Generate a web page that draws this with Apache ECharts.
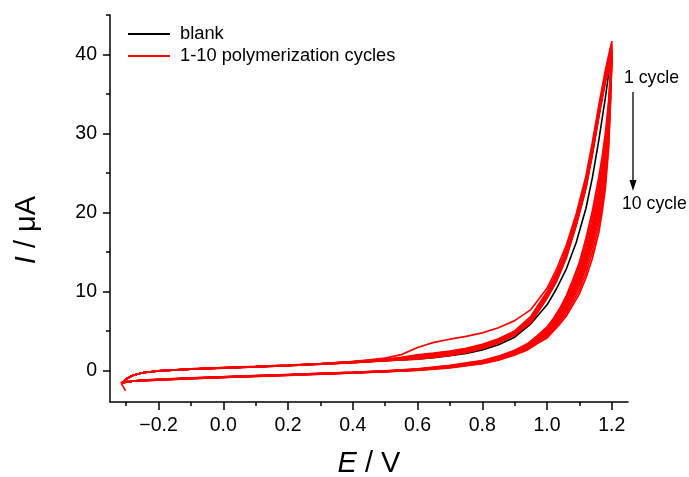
<!DOCTYPE html>
<html><head><meta charset="utf-8">
<script src="https://cdn.jsdelivr.net/npm/echarts@6/dist/echarts.min.js"></script>
<style>html,body{margin:0;padding:0;background:#fff}#c{width:689px;height:477px}</style>
</head><body><div id="c"></div>
<script>
// potential grids (V) for the anodic (forward) and cathodic (reverse) sweeps
const fwdX = [-0.315,-0.3,-0.28,-0.25,-0.2,-0.1,0,0.1,0.2,0.3,0.4,0.5,0.55,0.6,0.65,0.7,0.75,0.8,0.85,0.9,0.95,1.0,1.03,1.06,1.09,1.12,1.14,1.16,1.18,1.2];
const revX = [1.2,1.196,1.19,1.18,1.17,1.16,1.14,1.12,1.1,1.08,1.06,1.04,1.02,1.0,0.97,0.94,0.9,0.85,0.8,0.7,0.6,0.5,0.4,0.3,0.2,0.1,0,-0.1,-0.2,-0.25,-0.28,-0.3,-0.315];

// currents (µA)
const blankFwd = [-1.65,-1.05,-0.62,-0.3,-0.08,0.15,0.3,0.45,0.6,0.78,0.98,1.22,1.33,1.45,1.62,1.85,2.15,2.6,3.25,4.2,5.9,8.3,10.4,12.9,16.2,20.5,24.4,29.2,34.5,40.5];
const blankRev = [40.5,36,31,26.5,23.5,21,17.2,14.2,11.7,9.9,8.2,6.9,5.8,4.8,3.9,3.0,2.25,1.55,1.05,0.48,0.1,-0.12,-0.28,-0.42,-0.57,-0.71,-0.85,-1.0,-1.17,-1.27,-1.36,-1.45,-1.65];

const cycle1Start = [-0.302,-2.6];
const cycle1Fwd = [-1.65,-1.1,-0.65,-0.3,-0.05,0.17,0.32,0.47,0.62,0.84,1.12,1.55,2.0,2.9,3.55,3.95,4.3,4.75,5.4,6.3,7.7,10.4,12.9,15.9,19.8,24.6,28.9,33.6,38.0,41.7];
const cycle1Rev = [41.7,38.0,34.0,30.0,27.0,24.5,20.2,16.7,13.7,11.5,9.5,7.9,6.6,5.5,4.4,3.4,2.55,1.8,1.25,0.63,0.2,-0.07,-0.23,-0.37,-0.52,-0.66,-0.8,-0.95,-1.12,-1.22,-1.36,-1.45,-1.65];
const cycle2Fwd = [-1.65,-1.1,-0.65,-0.3,-0.05,0.2,0.35,0.5,0.66,0.85,1.13,1.39,1.65,1.98,2.2,2.45,2.8,3.3,4.0,5.0,6.85,9.95,12.4,15.4,19.4,24.1,28.4,33.2,37.6,41.3];
const cycle2Rev = [41.3,37.5,33.25,29.1,26.1,23.6,19.45,16.1,13.2,11.1,9.2,7.65,6.4,5.3,4.28,3.3,2.48,1.74,1.2,0.59,0.18,-0.08,-0.24,-0.38,-0.53,-0.67,-0.81,-0.96,-1.13,-1.23,-1.36,-1.45,-1.65];
const cycle3Fwd = [-1.65,-1.1,-0.65,-0.3,-0.05,0.19,0.34,0.49,0.65,0.84,1.11,1.37,1.6,1.9,2.12,2.37,2.72,3.22,3.92,4.92,6.73,9.83,12.24,15.24,19.24,23.94,28.24,33.04,37.44,40.9];
const cycle3Rev = [40.9,37.0,32.5,28.25,25.25,22.75,18.7,15.45,12.7,10.7,8.85,7.4,6.2,5.15,4.15,3.2,2.4,1.68,1.15,0.55,0.15,-0.1,-0.26,-0.4,-0.55,-0.69,-0.83,-0.98,-1.15,-1.25,-1.36,-1.45,-1.65];
const cycle4Fwd = [-1.65,-1.1,-0.65,-0.3,-0.05,0.18,0.33,0.48,0.64,0.83,1.09,1.35,1.56,1.83,2.05,2.3,2.65,3.15,3.85,4.85,6.63,9.73,12.1,15.1,19.1,23.8,28.1,32.9,37.3,40.6];
const cycle4Rev = [40.6,36.6,31.9,27.55,24.55,22.05,18.1,14.95,12.3,10.38,8.59,7.2,6.04,5.01,4.05,3.12,2.34,1.63,1.11,0.53,0.13,-0.1,-0.26,-0.4,-0.55,-0.69,-0.83,-0.98,-1.15,-1.25,-1.36,-1.45,-1.65];
const cycle5Fwd = [-1.65,-1.1,-0.65,-0.3,-0.05,0.17,0.32,0.47,0.63,0.82,1.06,1.32,1.52,1.76,1.98,2.23,2.58,3.08,3.78,4.78,6.52,9.62,11.96,14.96,18.96,23.66,27.96,32.76,37.16,40.3];
const cycle5Rev = [40.3,36.2,31.3,26.85,23.85,21.35,17.5,14.45,11.9,10.06,8.33,7.0,5.88,4.87,3.95,3.04,2.28,1.58,1.07,0.5,0.11,-0.11,-0.27,-0.41,-0.56,-0.7,-0.84,-0.99,-1.16,-1.26,-1.36,-1.45,-1.65];
const cycle6Fwd = [-1.65,-1.1,-0.65,-0.3,-0.05,0.17,0.32,0.47,0.63,0.82,1.04,1.3,1.47,1.68,1.9,2.15,2.5,3.0,3.7,4.7,6.4,9.5,11.8,14.8,18.8,23.5,27.8,32.6,37.0,40.0];
const cycle6Rev = [40.0,35.8,30.7,26.15,23.15,20.65,16.9,13.95,11.5,9.74,8.07,6.8,5.72,4.73,3.85,2.96,2.22,1.53,1.03,0.47,0.09,-0.13,-0.29,-0.43,-0.58,-0.72,-0.86,-1.01,-1.18,-1.28,-1.36,-1.45,-1.65];
const cycle7Fwd = [-1.65,-1.1,-0.65,-0.3,-0.05,0.16,0.31,0.46,0.62,0.81,1.02,1.28,1.43,1.62,1.84,2.09,2.44,2.94,3.64,4.64,6.31,9.41,11.68,14.68,18.68,23.38,27.68,32.48,36.88,39.7];
const cycle7Rev = [39.7,35.4,30.1,25.45,22.45,19.95,16.3,13.45,11.1,9.42,7.81,6.6,5.56,4.59,3.75,2.88,2.16,1.48,0.99,0.44,0.07,-0.14,-0.3,-0.44,-0.59,-0.73,-0.87,-1.02,-1.19,-1.29,-1.36,-1.45,-1.65];
const cycle8Fwd = [-1.65,-1.1,-0.65,-0.3,-0.05,0.16,0.31,0.46,0.62,0.81,1.0,1.26,1.4,1.56,1.78,2.03,2.38,2.88,3.58,4.58,6.22,9.32,11.56,14.56,18.56,23.26,27.56,32.36,36.76,39.5];
const cycle8Rev = [39.5,35.0,29.5,24.75,21.75,19.25,15.7,12.95,10.7,9.1,7.55,6.4,5.4,4.45,3.65,2.8,2.1,1.43,0.95,0.4,0.05,-0.15,-0.31,-0.45,-0.6,-0.74,-0.88,-1.03,-1.2,-1.3,-1.36,-1.45,-1.65];
const cycle9Fwd = [-1.65,-1.1,-0.65,-0.3,-0.05,0.15,0.3,0.45,0.61,0.8,0.99,1.25,1.36,1.5,1.72,1.97,2.32,2.82,3.52,4.52,6.13,9.23,11.44,14.44,18.44,23.14,27.44,32.24,36.64,39.3];
const cycle9Rev = [39.3,34.5,28.75,23.9,20.9,18.4,14.95,12.3,10.2,8.7,7.23,6.15,5.2,4.28,3.53,2.7,2.03,1.36,0.9,0.37,0.03,-0.16,-0.32,-0.46,-0.61,-0.75,-0.89,-1.04,-1.21,-1.31,-1.36,-1.45,-1.65];
const cycle10Fwd = [-1.65,-1.1,-0.65,-0.3,-0.05,0.15,0.3,0.45,0.61,0.8,0.97,1.23,1.33,1.44,1.66,1.91,2.26,2.76,3.46,4.46,6.04,9.14,11.32,14.32,18.32,23.02,27.32,32.12,36.52,39.1];
const cycle10Rev = [39.1,34.0,28.0,23.0,20.0,17.5,14.2,11.7,9.7,8.3,6.9,5.9,5.0,4.1,3.4,2.6,1.95,1.3,0.85,0.33,0.0,-0.17,-0.33,-0.47,-0.62,-0.76,-0.9,-1.05,-1.22,-1.32,-1.36,-1.45,-1.65];

// axis ticks
const xMajorTicks = [-0.2,0,0.2,0.4,0.6,0.8,1.0,1.2];
const xMinorTicks = [-0.3,-0.1,0.1,0.3,0.5,0.7,0.9,1.1];
const yMajorTicks = [0,10,20,30,40];
const yMinorTicks = [5,15,25,35,45];
const legendNames = ['blank','1-10 polymerization cycles'];

const FONT = '"Liberation Sans", Arial, sans-serif';

function loop(fy, ry, start) {
  const pts = start ? [start] : [];
  fwdX.forEach((x, i) => pts.push([x, fy[i]]));
  revX.forEach((x, i) => { if (i > 0) pts.push([x, ry[i]]); });
  return pts;
}

const redCycles = [
  [cycle1Fwd, cycle1Rev, cycle1Start],
  [cycle2Fwd, cycle2Rev], [cycle3Fwd, cycle3Rev], [cycle4Fwd, cycle4Rev],
  [cycle5Fwd, cycle5Rev], [cycle6Fwd, cycle6Rev], [cycle7Fwd, cycle7Rev],
  [cycle8Fwd, cycle8Rev], [cycle9Fwd, cycle9Rev], [cycle10Fwd, cycle10Rev]
];

const series = [{
  name: legendNames[0], type: 'line', data: loop(blankFwd, blankRev),
  showSymbol: false, symbol: 'none', color: '#000000',
  lineStyle: { color: '#000000', width: 1.6 }
}];
redCycles.forEach(c => series.push({
  name: legendNames[1], type: 'line', data: loop(c[0], c[1], c[2]),
  showSymbol: false, symbol: 'none', color: '#ff0000',
  lineStyle: { color: '#ff0000', width: 1.7 }
}));

const chart = echarts.init(document.getElementById('c'), null, { renderer: 'canvas' });
const axisLineStyle = { color: '#000', width: 1.5 };
chart.setOption({
  animation: false,
  backgroundColor: '#fff',
  grid: { left: 110, right: 61, top: 15, bottom: 75, containLabel: false },
  legend: {
    data: legendNames, orient: 'vertical', left: 128, top: 24, padding: 0,
    icon: 'rect', itemWidth: 42, itemHeight: 2, itemGap: 2,
    textStyle: { fontSize: 18.3, color: '#000', fontFamily: FONT, lineHeight: 20, padding: [0, 0, 0, 5] }
  },
  xAxis: [{
    type: 'value', min: -0.35, max: 1.25,
    axisLine: { show: true, onZero: false, lineStyle: axisLineStyle },
    axisTick: { show: true, inside: false, length: 8, customValues: xMajorTicks, lineStyle: axisLineStyle },
    axisLabel: { show: true, customValues: xMajorTicks, margin: 14, fontSize: 19.5, color: '#000', fontFamily: FONT,
      formatter: v => v.toFixed(1).replace('-', '\u2212') },
    splitLine: { show: false }
  }, {
    type: 'value', min: -0.35, max: 1.25, position: 'bottom',
    axisLine: { show: false, onZero: false },
    axisTick: { show: true, inside: false, length: 4, customValues: xMinorTicks, lineStyle: axisLineStyle },
    axisLabel: { show: false },
    splitLine: { show: false }
  }],
  yAxis: [{
    type: 'value', min: -4, max: 45,
    axisLine: { show: true, onZero: false, lineStyle: axisLineStyle },
    axisTick: { show: true, inside: false, length: 7, customValues: yMajorTicks, lineStyle: axisLineStyle },
    axisLabel: { show: true, customValues: yMajorTicks, margin: 13, fontSize: 19.5, color: '#000', fontFamily: FONT },
    splitLine: { show: false }
  }, {
    type: 'value', min: -4, max: 45, position: 'left',
    axisLine: { show: false, onZero: false },
    axisTick: { show: true, inside: false, length: 4, customValues: yMinorTicks, lineStyle: axisLineStyle },
    axisLabel: { show: false },
    splitLine: { show: false }
  }],
  series: series,
  graphic: [
    { type: 'text', x: 369, y: 464, style: { text: '{i|E} / V', fontSize: 29, fontFamily: FONT, fill: '#000',
      align: 'center', verticalAlign: 'middle',
      rich: { i: { fontStyle: 'italic', fontSize: 29, fontFamily: FONT, fill: '#000' } } } },
    { type: 'text', x: 27, y: 230, rotation: Math.PI / 2, style: { text: '{i|I} / \u03bcA', fontSize: 29, fontFamily: FONT, fill: '#000',
      align: 'center', verticalAlign: 'middle',
      rich: { i: { fontStyle: 'italic', fontSize: 29, fontFamily: FONT, fill: '#000' } } } },
    { type: 'text', x: 624, y: 78, style: { text: '1 cycle', fontSize: 17.7, fontFamily: FONT, fill: '#000', align: 'left', verticalAlign: 'middle' } },
    { type: 'text', x: 622, y: 204, style: { text: '10 cycle', fontSize: 17.7, fontFamily: FONT, fill: '#000', align: 'left', verticalAlign: 'middle' } },
    { type: 'line', shape: { x1: 633, y1: 92, x2: 633, y2: 182 }, style: { stroke: '#000', lineWidth: 1.3 } },
    { type: 'polygon', shape: { points: [[629.5, 180], [636.5, 180], [633, 191]] }, style: { fill: '#000' } }
  ]
});
</script></body></html>
